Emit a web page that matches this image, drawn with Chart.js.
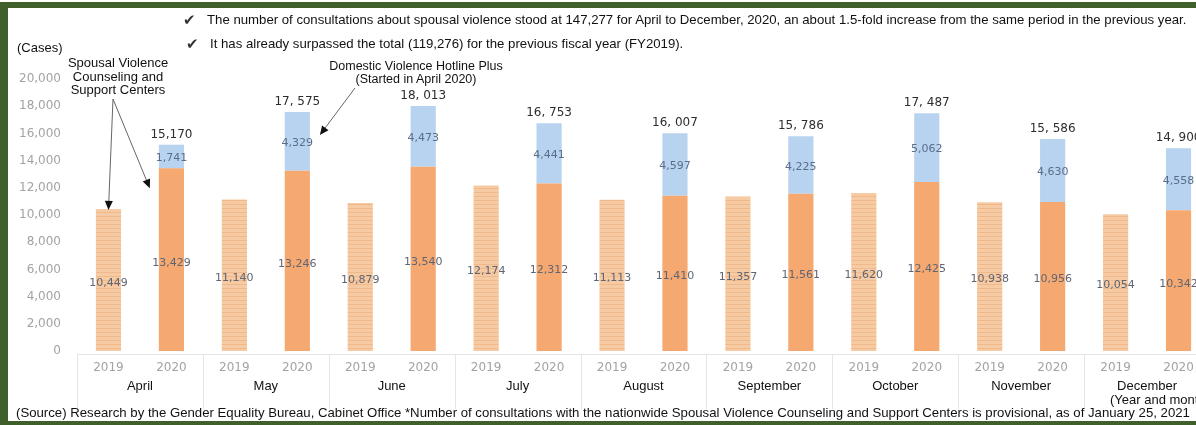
<!DOCTYPE html>
<html>
<head>
<meta charset="utf-8">
<script src="https://cdn.jsdelivr.net/npm/chart.js@4"></script>
<style>
  html, body { margin: 0; padding: 0; overflow: hidden; background: #fff; }
  body { width: 1196px; height: 425px; position: relative; font-family: "Liberation Sans", Arial, sans-serif; }
  #frame { position: absolute; left: 0; top: 2px; width: 1196px; height: 423px; box-sizing: border-box;
           border-left: 8px solid #3f5f2b; border-top: 6px solid #3f5f2b; border-bottom: 4px solid #3f5f2b; }
  #chart { position: absolute; left: 0; top: 0; }
  .t { position: absolute; white-space: nowrap; color: #111; font-size: 13.2px; line-height: 15px; }
  .ck { font-size: 15px; color: #333; }
  .c { text-align: center; transform: translateX(-50%); }
</style>
</head>
<body>
<div id="frame"></div>
<canvas id="chart" width="1218" height="425"></canvas>

<div class="t ck" style="left:183px; top:12px;">&#10004;</div>
<div class="t" style="left:207px; top:12px;">The number of consultations about spousal violence stood at 147,277 for April to December, 2020, an about 1.5-fold increase from the same period in the previous year.</div>
<div class="t ck" style="left:186px; top:36px;">&#10004;</div>
<div class="t" style="left:210px; top:36px;">It has already surpassed the total (119,276) for the previous fiscal year (FY2019).</div>
<div class="t" style="left:17px; top:40px; font-size:13px;">(Cases)</div>
<div class="t c" style="left:118px; top:56px; font-size:13px; line-height:13.5px;">Spousal Violence<br>Counseling and<br>Support Centers</div>
<div class="t c" style="left:416px; top:60px; font-size:12.5px; line-height:13px;">Domestic Violence Hotline Plus<br>(Started in April 2020)</div>
<div class="t" style="left:1110px; top:392px; font-size:13px;">(Year and month)</div>
<div class="t" style="left:16px; top:405px;">(Source) Research by the Gender Equality Bureau, Cabinet Office *Number of consultations with the nationwide Spousal Violence Counseling and Support Centers is provisional, as of January 25, 2021</div>

<script>
const months = ['April', 'May', 'June', 'July', 'August', 'September', 'October', 'November', 'December'];
const years = ['2019', '2020'];
const centers2019 = [10449, 11140, 10879, 12174, 11113, 11357, 11620, 10938, 10054];
const centers2020 = [13429, 13246, 13540, 12312, 11410, 11561, 12425, 10956, 10342];
const hotline2020 = [1741, 4329, 4473, 4441, 4597, 4225, 5062, 4630, 4558];
const totals2020 = [15170, 17575, 18013, 16753, 16007, 15786, 17487, 15586, 14900];
const yMax = 20000;
const yStep = 2000;

// striped fill for the 2019 bars
function stripePattern() {
    const c = document.createElement('canvas');
    c.width = 4;
    c.height = 4;
    const g = c.getContext('2d');
    g.fillStyle = '#f6cba3';
    g.fillRect(0, 0, 4, 4);
    g.fillStyle = '#efb98b';
    g.fillRect(0, 0, 4, 1);
    return g.createPattern(c, 'repeat');
}

const stripes = stripePattern();
const xLabels = months.flatMap(() => years);
const centerData = months.flatMap((m, i) => [centers2019[i], centers2020[i]]);
const hotlineData = months.flatMap((m, i) => [null, hotline2020[i]]);
const centerColors = months.flatMap(() => [stripes, '#f5a870']);

const fmt = (v) => v.toLocaleString('en-US');

function arrow(ctx, x1, y1, x2, y2) {
    const a = Math.atan2(y2 - y1, x2 - x1);
    ctx.save();
    ctx.strokeStyle = '#666';
    ctx.lineWidth = 1;
    ctx.beginPath();
    ctx.moveTo(x1, y1);
    ctx.lineTo(x2 - 6 * Math.cos(a), y2 - 6 * Math.sin(a));
    ctx.stroke();
    ctx.fillStyle = '#111';
    ctx.beginPath();
    ctx.moveTo(x2, y2);
    ctx.lineTo(x2 - 9 * Math.cos(a) + 4 * Math.sin(a), y2 - 9 * Math.sin(a) - 4 * Math.cos(a));
    ctx.lineTo(x2 - 9 * Math.cos(a) - 4 * Math.sin(a), y2 - 9 * Math.sin(a) + 4 * Math.cos(a));
    ctx.closePath();
    ctx.fill();
    ctx.restore();
}

const extras = {
    id: 'extras',
    afterDatasetsDraw(chart) {
        const ctx = chart.ctx;
        const x = chart.scales.x;
        const area = chart.chartArea;
        const base = chart.getDatasetMeta(0).data;
        const top = chart.getDatasetMeta(1).data;

        // baseline and month separators
        ctx.save();
        ctx.strokeStyle = '#e4e4e4';
        ctx.lineWidth = 1;
        ctx.beginPath();
        ctx.moveTo(area.left, area.bottom + 3.5);
        ctx.lineTo(area.right, area.bottom + 3.5);
        for (let i = 0; i <= months.length; i++) {
            const px = Math.round(area.left + i * (area.right - area.left) / months.length) + 0.5;
            ctx.moveTo(px, area.bottom + 3);
            ctx.lineTo(px, area.bottom + 58);
        }
        ctx.stroke();

        // month names
        ctx.fillStyle = '#111';
        ctx.font = '13px "Liberation Sans", Arial, sans-serif';
        ctx.textAlign = 'center';
        ctx.textBaseline = 'middle';
        months.forEach((m, i) => {
            const cx = (x.getPixelForValue(2 * i) + x.getPixelForValue(2 * i + 1)) / 2;
            ctx.fillText(m, cx, area.bottom + 35);
        });

        // value labels
        ctx.font = '11px "DejaVu Sans", sans-serif';
        base.forEach((bar, i) => {
            ctx.fillStyle = '#5e6574';
            ctx.fillText(fmt(centerData[i]), bar.x, (bar.y + bar.base) / 2 + 3);
        });
        top.forEach((bar, i) => {
            if (hotlineData[i] == null) return;
            ctx.fillStyle = '#5a6d8a';
            ctx.fillText(fmt(hotlineData[i]), bar.x, (bar.y + bar.base) / 2 + 2);
            const k = (i - 1) / 2;
            const txt = k === 0 ? fmt(totals2020[k]) : fmt(totals2020[k]).replace(',', ', ');
            ctx.fillStyle = '#2d2d2d';
            ctx.font = '12px "DejaVu Sans", sans-serif';
            ctx.fillText(txt, bar.x, bar.y - 10);
            ctx.font = '11px "DejaVu Sans", sans-serif';
        });

        // annotation arrows
        arrow(ctx, 113, 99, base[0].x, base[0].y + 1);
        arrow(ctx, 113, 99, base[1].x - base[1].width / 2 - 9, base[1].y + 20);
        arrow(ctx, 355, 88, top[3].x + top[3].width / 2 + 10, top[3].y + 23);
        ctx.restore();
    }
};

new Chart(document.getElementById('chart'), {
    type: 'bar',
    data: {
        labels: xLabels,
        datasets: [{
            label: 'Spousal Violence Counseling and Support Centers',
            data: centerData,
            backgroundColor: centerColors,
            barPercentage: 0.4,
            categoryPercentage: 1.0
        }, {
            label: 'Domestic Violence Hotline Plus',
            data: hotlineData,
            backgroundColor: '#b8d3ef',
            barPercentage: 0.4,
            categoryPercentage: 1.0
        }]
    },
    options: {
        responsive: false,
        animation: false,
        layout: { padding: { left: 0, top: 79, right: 8, bottom: 0 } },
        plugins: {
            legend: { display: false },
            tooltip: { enabled: false }
        },
        scales: {
            x: {
                stacked: true,
                grid: { display: false, drawTicks: false },
                border: { display: false },
                ticks: {
                    color: '#a3a3a3',
                    font: { family: '"DejaVu Sans", sans-serif', size: 12 },
                    padding: 10,
                    maxRotation: 0,
                    autoSkip: false
                },
                afterFit(scale) { scale.height = 74; }
            },
            y: {
                stacked: true,
                min: 0,
                max: yMax,
                grid: { display: false, drawTicks: false },
                border: { display: false },
                ticks: {
                    stepSize: yStep,
                    color: '#a3a3a3',
                    font: { family: '"DejaVu Sans", sans-serif', size: 12 },
                    padding: 16,
                    callback: (v) => fmt(v)
                },
                afterFit(scale) { scale.width = 77; }
            }
        }
    },
    plugins: [extras]
});
</script>
</body>
</html>
